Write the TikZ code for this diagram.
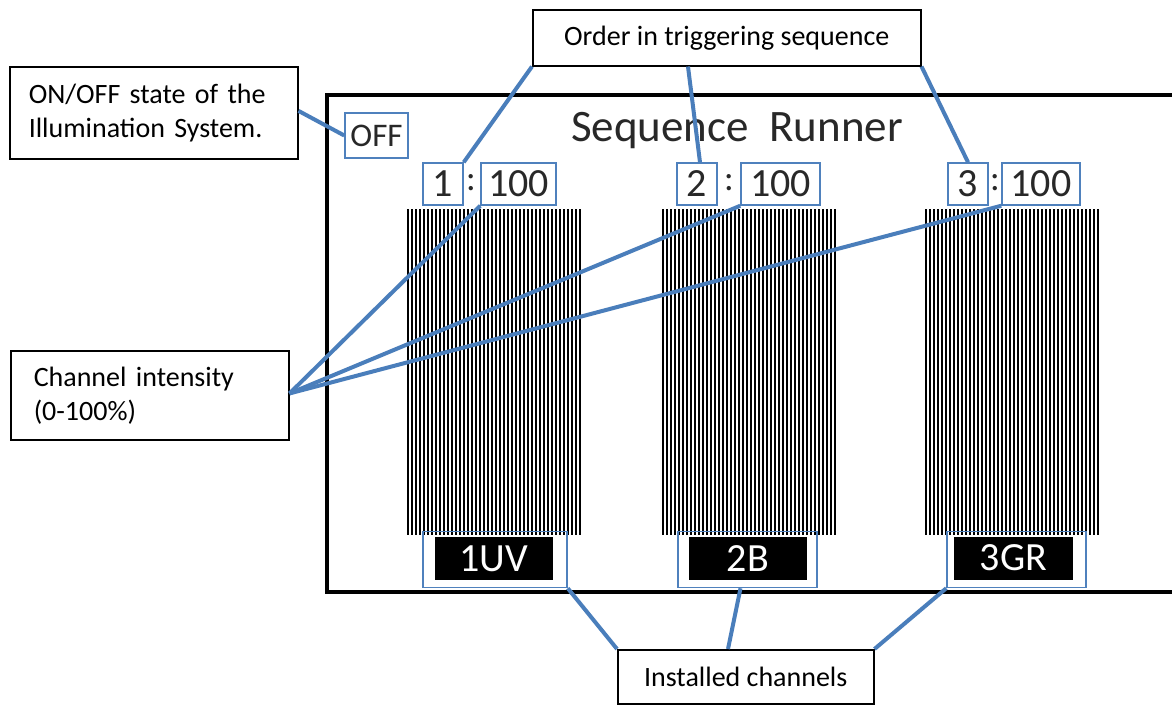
\documentclass[tikz,border=0pt]{standalone}
\usepackage{fontspec}
\setmainfont{Carlito}
\usetikzlibrary{calc}
\definecolor{connc}{RGB}{74,126,187}
\definecolor{boxblue}{RGB}{79,129,189}
\definecolor{txtgray}{RGB}{40,40,40}
\tikzset{
  callout/.style={draw=black, line width=1.5, fill=white, inner ysep=0, font=\fontsize{28}{34}\selectfont},
  bluebox/.style={draw=boxblue, line width=1.5, inner sep=0, minimum height=42, text=txtgray, font=\fontsize{40}{44}\selectfont},
  labelbox/.style={draw=boxblue, line width=1.5, inner sep=0, minimum height=56},
  blackfill/.style={fill=black, inner sep=0, minimum height=43, text=white, font=\fontsize{40}{44}\selectfont},
  connector/.style={draw=connc, line width=4},
  stripeline/.style={line width=2, draw=black}
}
\begin{document}
\begin{tikzpicture}[x=1pt,y=-1pt]
\useasboundingbox (0,0) rectangle (1172,704);
\clip (0,0) rectangle (1172,704);
% screen frame
\draw[line width=4.5, fill=white] (327,95) rectangle (1200,592);
\node[font=\fontsize{45}{50}\selectfont, text=txtgray] (title) at (737,131) {Sequence\ \ Runner};
% stripes
\foreach \L in {407,662,925}{
  \foreach \i in {0,...,43}{
    \draw[stripeline] ({\L+4*\i+1},209) -- ({\L+4*\i+1},535);
  }
}
% OFF
\node[draw=boxblue, line width=1.5, minimum width=63, minimum height=45, inner sep=0, text=txtgray, font=\fontsize{33}{36}\selectfont] (off) at (376.5,135.5) {OFF};
% order / intensity boxes
\node[bluebox, minimum width=40] (o1) at (443,184) {1};
\node[text=txtgray, font=\fontsize{36}{40}\selectfont, inner sep=0] (c1) at (471,183) {:};
\node[bluebox, minimum width=75] (v1) at (518.5,184) {100};
\node[bluebox, minimum width=40] (o2) at (697,184) {2};
\node[text=txtgray, font=\fontsize{36}{40}\selectfont, inner sep=0] (c2) at (729,183) {:};
\node[bluebox, minimum width=79] (v2) at (780.5,184) {100};
\node[bluebox, minimum width=40] (o3) at (968,184) {3};
\node[text=txtgray, font=\fontsize{36}{40}\selectfont, inner sep=0] (c3) at (995,183) {:};
\node[bluebox, minimum width=78] (v3) at (1041,184) {100};
% channel labels
\node[blackfill, minimum width=118] (b1) at (494,558.5) {1UV};
\node[labelbox, minimum width=144] (l1) at (495,559.5) {};
\node[blackfill, minimum width=118] (b2) at (748,558.5) {2B};
\node[labelbox, minimum width=139] (l2) at (747.5,559.5) {};
\node[blackfill, minimum width=119] (b3) at (1013.5,558) {3GR};
\node[labelbox, minimum width=139] (l3) at (1016.5,559.5) {};
% callouts
\node[callout, anchor=north west, minimum width=288, minimum height=92, text width=250, inner xsep=19, align=left] (onoff) at (9,66) {ON/OFF state of the\\Illumination System.};
\node[callout, anchor=north west, minimum width=388, minimum height=56] (order) at (532,9) {Order in triggering sequence};
\node[callout, anchor=north west, minimum width=278, minimum height=89, text width=232, inner xsep=23, align=left] (inten) at (10,350) {Channel intensity\\(0-100\%)};
\node[callout, anchor=north west, minimum width=256, minimum height=54] (inst) at (617,649) {Installed channels};
% connectors
\draw[connector] ($(onoff.north east)!0.48!(onoff.south east)$) -- (off.west);
\draw[connector] (order.south west) -- (o1.north east);
\draw[connector] ($(order.south west)+(156,0)$) -- ($(o2.north)+(3,0)$);
\draw[connector] (order.south east) -- (o3.north);
\coordinate (ci) at ($(inten.north east)!0.48!(inten.south east)$);
\draw[connector] (ci) -- (v1.south west);
\draw[connector] (ci) -- (v2.south west);
\draw[connector] (ci) -- (v3.south west);
\draw[connector] (inst.north west) -- (l1.south east);
\draw[connector] ($(inst.north west)+(111,0)$) -- ($(l2.south)+(-7,0)$);
\draw[connector] (inst.north east) -- (l3.south west);
\end{tikzpicture}
\end{document}
